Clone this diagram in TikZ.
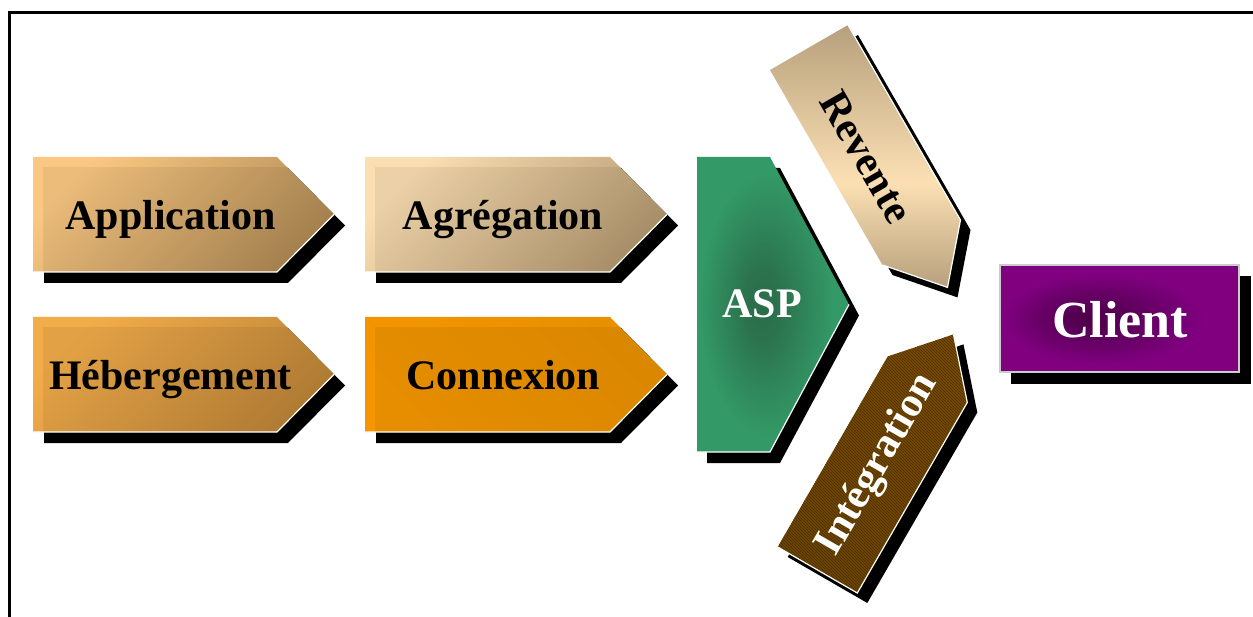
\documentclass[tikz,border=0pt]{standalone}
\usepackage{fontspec}
\setmainfont{Liberation Serif}
\usetikzlibrary{patterns}
\definecolor{appA}{HTML}{FAC882}
\definecolor{appB}{HTML}{B08A55}
\definecolor{agrA}{HTML}{FBDEB2}
\definecolor{agrB}{HTML}{B39970}
\definecolor{hebA}{HTML}{F2AC4A}
\definecolor{hebB}{HTML}{BC8438}
\definecolor{conA}{HTML}{E89000}
\definecolor{conM}{HTML}{FFA210}
\definecolor{conB}{HTML}{F59600}
\definecolor{aspgreen}{HTML}{339966}
\definecolor{aspdark}{HTML}{2A6C49}
\definecolor{cliPurple}{HTML}{800080}
\definecolor{cliDark}{HTML}{4E004A}
\definecolor{revTan}{HTML}{B6A07C}
\definecolor{revLight}{HTML}{FCE0B4}
\definecolor{intA}{HTML}{7A4C00}
\definecolor{intM}{HTML}{A26600}
\definecolor{intB}{HTML}{6E4500}
\definecolor{hatch}{HTML}{4A2E00}
\pgfdeclareradialshading{aspshade}{\pgfpoint{-4bp}{0bp}}{color(0bp)=(aspdark); color(6bp)=(aspdark!85!aspgreen); color(22bp)=(aspgreen); color(50bp)=(aspgreen)}
\pgfdeclareradialshading{clishade}{\pgfpoint{-6bp}{0bp}}{color(0bp)=(cliDark); color(5bp)=(cliDark!85!cliPurple); color(21bp)=(cliPurple); color(50bp)=(cliPurple)}
\pgfdeclareverticalshading{revshade}{100bp}{color(0bp)=(revTan); color(25bp)=(revTan); color(45bp)=(revLight); color(75bp)=(revTan); color(100bp)=(revTan)}
\begin{document}
\begin{tikzpicture}[x=1pt,y=-1pt,
  shadowfill/.style={fill=black},
  hilite/.style={draw=white, line width=1.2pt, line join=miter},
  inset/.style={fill=black, opacity=.06},
  lbl/.style={font=\fontsize{42}{48}\selectfont\bfseries, inner sep=0pt},
  bigl/.style={font=\fontsize{52}{60}\selectfont\bfseries, inner sep=0pt, text=white},
  frameline/.style={draw=black, line width=3.5pt}]
\useasboundingbox (0,0) rectangle (1253,617);
\fill[white] (0,0) rectangle (1253,617);
% frame
\draw[frameline] (9.7,617) -- (9.7,12.5) -- (1253,12.5);

% ---- Application
\fill[shadowfill] (44,168) -- (288,168) -- (345,225.5) -- (288,283) -- (44,283) -- cycle;
\shade[top color=appA, bottom color=appB, shading angle=45] (33,157) -- (277,157) -- (334,214.5) -- (277,272) -- (33,272) -- cycle;
\begin{scope}
\clip (33,157) -- (277,157) -- (334,214.5) -- (277,272) -- (33,272) -- cycle;
\fill[inset] (43,167) rectangle (340,272);
\end{scope}
\draw[hilite] (334,214.5) -- (277,272) -- (33,272);
\node[lbl, anchor=base] (app) at (170.5,230) {Application};

% ---- Agregation
\fill[shadowfill] (376,168) -- (621,168) -- (678,225.5) -- (621,283) -- (376,283) -- cycle;
\shade[top color=agrA, bottom color=agrB, shading angle=45] (365,157) -- (610,157) -- (667,214.5) -- (610,272) -- (365,272) -- cycle;
\begin{scope}
\clip (365,157) -- (610,157) -- (667,214.5) -- (610,272) -- (365,272) -- cycle;
\fill[inset] (375,167) rectangle (670,272);
\end{scope}
\draw[hilite] (667,214.5) -- (610,272) -- (365,272);
\node[lbl, anchor=base] (agr) at (503,230) {Agrégation};

% ---- Hebergement
\fill[shadowfill] (44,328) -- (288,328) -- (345,385.5) -- (288,443) -- (44,443) -- cycle;
\shade[top color=hebA, bottom color=hebB, shading angle=45] (33,317) -- (277,317) -- (334,374.5) -- (277,432) -- (33,432) -- cycle;
\begin{scope}
\clip (33,317) -- (277,317) -- (334,374.5) -- (277,432) -- (33,432) -- cycle;
\fill[inset] (43,327) rectangle (340,432);
\end{scope}
\draw[hilite] (334,374.5) -- (277,432) -- (33,432);
\node[lbl, anchor=base] (heb) at (170.5,390) {Hébergement};

% ---- Connexion
\fill[shadowfill] (376,328) -- (621,328) -- (678,385.5) -- (621,443) -- (376,443) -- cycle;
\shade[top color=conA, middle color=conM, bottom color=conB, shading angle=-45] (365,317) -- (610,317) -- (667,374.5) -- (610,432) -- (365,432) -- cycle;
\begin{scope}
\clip (365,317) -- (610,317) -- (667,374.5) -- (610,432) -- (365,432) -- cycle;
\fill[inset] (375,327) rectangle (670,432);
\end{scope}
\draw[hilite] (667,374.5) -- (610,432) -- (365,432);
\node[lbl, anchor=base] (con) at (503.5,390) {Connexion};

% ---- ASP
\fill[shadowfill] (707,168) -- (780,168) -- (859,315.5) -- (780,463) -- (707,463) -- cycle;
\shade[shading=aspshade] (697,157) -- (770,157) -- (849,304.5) -- (770,452) -- (697,452) -- cycle;
\draw[hilite] (849,304.5) -- (770,452) -- (697,452);
\node[lbl, anchor=base, text=white] (asp) at (762,318) {ASP};

% ---- Revente
\fill[shadowfill] (858,35) -- (780,80) -- (892.5,275) -- (957.5,297.4) -- (970.5,230) -- cycle;
\shade[shading=revshade] (848,25) -- (770,70) -- (882.5,265) -- (947.5,287.4) -- (960.5,220) -- cycle;
\draw[hilite] (848,25) -- (960.5,220) -- (947.5,287.4) -- (882.5,265);
\node[lbl, rotate=-60] (rev) at (866,157) {Revente};

% ---- Integration
\fill[shadowfill] (787.7,557) -- (897.7,366.5) -- (963.5,344.4) -- (977.3,412.5) -- (867.3,603) -- cycle;
\shade[top color=intA, middle color=intM, bottom color=intB, shading angle=-30] (777.7,547) -- (887.7,356.5) -- (953.5,334.4) -- (967.3,402.5) -- (857.3,593) -- cycle;
\fill[pattern=north west lines, pattern color=hatch, fill opacity=.15] (777.7,547) -- (887.7,356.5) -- (953.5,334.4) -- (967.3,402.5) -- (857.3,593) -- cycle;
\draw[hilite] (953.5,334.4) -- (967.3,402.5) -- (857.3,593) -- (777.7,547);
\node[lbl, rotate=60, text=white] (integ) at (878,465) {Intégration};

% ---- Client
\fill[shadowfill] (1011,276) rectangle (1251,384);
\shade[shading=clishade] (1000,265) rectangle (1239,372);
\draw[draw=white!80!black, line width=1.2pt] (1000,265) rectangle (1239,372);
\node[bigl, anchor=base] (client) at (1120,338) {Client};
\end{tikzpicture}
\end{document}
